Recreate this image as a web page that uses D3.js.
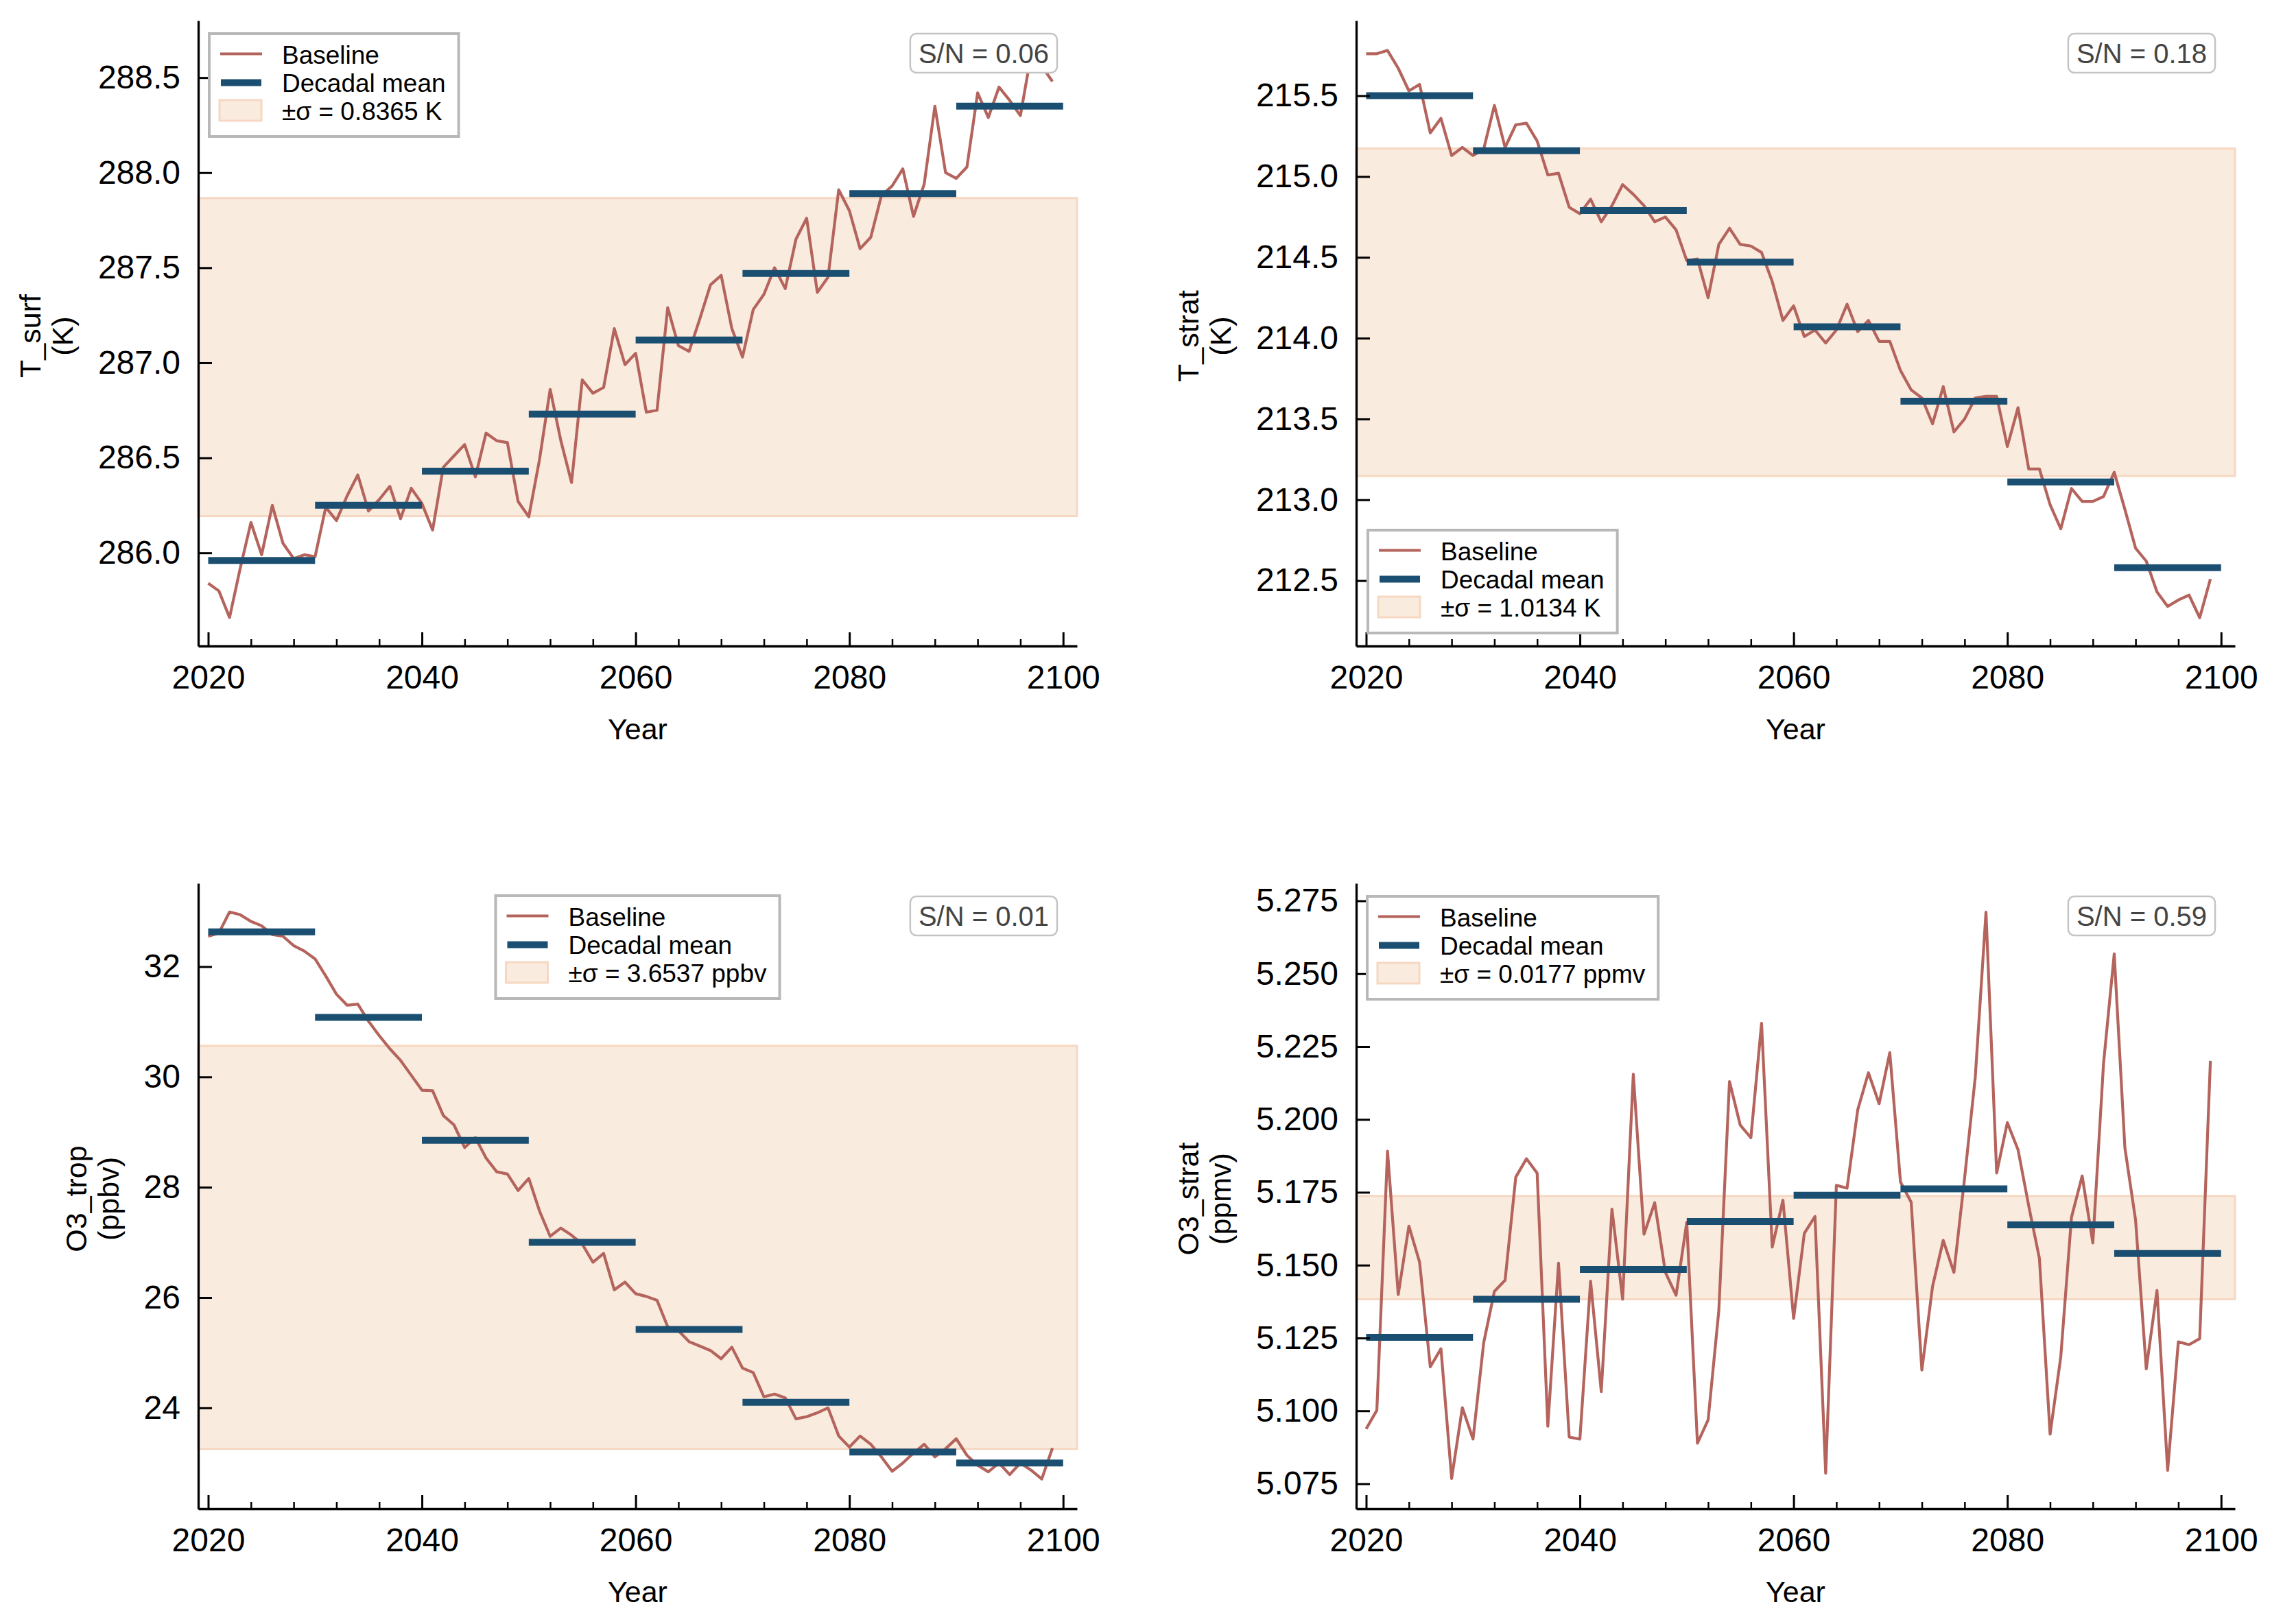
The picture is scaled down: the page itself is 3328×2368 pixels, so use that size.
<!DOCTYPE html>
<html><head><meta charset="utf-8">
<script src="https://cdn.jsdelivr.net/npm/d3@7"></script>
<style>
body{margin:0;background:#fff}
text{font-family:"Liberation Sans", Arial, Helvetica, sans-serif}
</style>
</head><body>
<svg id="chart" width="3328" height="2368"></svg>
<script>
// ---------------- DATA ----------------
const years = d3.range(2020, 2100);
const decadeStarts = [2020, 2030, 2040, 2050, 2060, 2070, 2080, 2090];
const xMajorTicks = [2020, 2040, 2060, 2080, 2100];

const tSurf = [
  285.84, 285.80, 285.66, 285.92, 286.16, 285.99, 286.25, 286.05, 285.97, 285.99,
  285.98, 286.24, 286.17, 286.30, 286.41, 286.22, 286.28, 286.35, 286.18, 286.34,
  286.26, 286.12, 286.45, 286.51, 286.57, 286.40, 286.63, 286.59, 286.58, 286.27,
  286.19, 286.49, 286.86, 286.59, 286.37, 286.91, 286.84, 286.87, 287.18, 286.99,
  287.05, 286.74, 286.75, 287.29, 287.09, 287.06, 287.23, 287.41, 287.46, 287.18,
  287.03, 287.28, 287.36, 287.50, 287.39, 287.65, 287.76, 287.37, 287.45, 287.91,
  287.80, 287.60, 287.66, 287.88, 287.93, 288.02, 287.77, 287.94, 288.35, 288.00,
  287.97, 288.03, 288.42, 288.29, 288.45, 288.38, 288.30, 288.62, 288.56, 288.48
];
const tStrat = [
  215.76, 215.76, 215.78, 215.67, 215.53, 215.57, 215.27, 215.36, 215.13, 215.18,
  215.13, 215.17, 215.44, 215.18, 215.32, 215.33, 215.22, 215.01, 215.02, 214.81,
  214.77, 214.86, 214.72, 214.82, 214.95, 214.89, 214.82, 214.72, 214.75, 214.67,
  214.48, 214.49, 214.25, 214.58, 214.68, 214.58, 214.57, 214.53, 214.35, 214.11,
  214.20, 214.01, 214.05, 213.97, 214.05, 214.21, 214.04, 214.11, 213.98, 213.98,
  213.80, 213.68, 213.63, 213.47, 213.70, 213.42, 213.50, 213.63, 213.64, 213.64,
  213.33, 213.57, 213.19, 213.19, 212.97, 212.82, 213.07, 212.99, 212.99, 213.02,
  213.17, 212.94, 212.70, 212.62, 212.43, 212.34, 212.38, 212.41, 212.27, 212.51
];
const o3Trop = [
  32.55, 32.61, 32.99, 32.94, 32.82, 32.74, 32.58, 32.55, 32.38, 32.28,
  32.14, 31.83, 31.50, 31.30, 31.32, 31.01, 30.75, 30.51, 30.30, 30.03,
  29.76, 29.75, 29.30, 29.13, 28.72, 28.90, 28.53, 28.28, 28.24, 27.94,
  28.16, 27.57, 27.11, 27.26, 27.13, 26.97, 26.64, 26.80, 26.14, 26.28,
  26.07, 26.02, 25.95, 25.47, 25.40, 25.20, 25.12, 25.04, 24.89, 25.10,
  24.72, 24.64, 24.20, 24.25, 24.18, 23.80, 23.84, 23.91, 24.00, 23.49,
  23.29, 23.49, 23.34, 23.11, 22.85, 23.00, 23.18, 23.34, 23.11, 23.26,
  23.44, 23.14, 22.96, 22.84, 23.00, 22.79, 23.00, 22.87, 22.71, 23.27
];
const o3Strat = [
  5.0938, 5.1002, 5.1891, 5.1399, 5.1634, 5.1510, 5.1151, 5.1213, 5.0768, 5.1011,
  5.0903, 5.1234, 5.1410, 5.1448, 5.1802, 5.1865, 5.1816, 5.0947, 5.1507, 5.0910,
  5.0903, 5.1445, 5.1066, 5.1692, 5.1383, 5.2155, 5.1606, 5.1714, 5.1475, 5.1397,
  5.1647, 5.0889, 5.0969, 5.1344, 5.2130, 5.1981, 5.1937, 5.2330, 5.1562, 5.1723,
  5.1317, 5.1609, 5.1667, 5.0786, 5.1774, 5.1764, 5.2033, 5.2160, 5.2054, 5.2229,
  5.1785, 5.1716, 5.1140, 5.1427, 5.1585, 5.1475, 5.1799, 5.2146, 5.2711, 5.1816,
  5.1989, 5.1896, 5.1703, 5.1523, 5.0920, 5.1186, 5.1664, 5.1806, 5.1576, 5.2192,
  5.2568, 5.1902, 5.1654, 5.1144, 5.1413, 5.0796, 5.1237, 5.1227, 5.1248, 5.2201
];

const tSurfMeans   = [285.96, 286.25, 286.43, 286.73, 287.12, 287.47, 287.89, 288.35];
const tStratMeans  = [215.50, 215.16, 214.79, 214.47, 214.07, 213.61, 213.11, 212.58];
const o3TropMeans  = [32.63, 31.08, 28.85, 27.00, 25.42, 24.10, 23.20, 23.00];
const o3StratMeans = [5.1252, 5.1383, 5.1485, 5.1650, 5.1740, 5.1762, 5.1638, 5.1540];

// overall mean and sigma of each variable (band = mean ± sigma)
const bandCenters = [287.03, 214.16, 26.91, 5.156];
const sigmas      = [0.8365, 1.0134, 3.6537, 0.0177];
const sigmaUnits  = ["K", "K", "ppbv", "ppmv"];
const snValues    = ["0.06", "0.18", "0.01", "0.59"];

const varNames  = ["T_surf", "T_strat", "O3_trop", "O3_strat"];
const unitLabels = ["(K)", "(K)", "(ppbv)", "(ppmv)"];

const yTicksTSurf  = [286.0, 286.5, 287.0, 287.5, 288.0, 288.5];
const yTicksTStrat = [212.5, 213.0, 213.5, 214.0, 214.5, 215.0, 215.5];
const yTicksO3Trop = [24, 26, 28, 30, 32];
const yTicksO3Strat = [5.075, 5.100, 5.125, 5.150, 5.175, 5.200, 5.225, 5.250, 5.275];

const yDomains = [[285.51, 288.80], [212.095, 215.965], [22.17, 33.51], [5.0664, 5.281]];
const xDomain = [2019.07, 2101.3];

// ---------------- STYLE / LAYOUT ----------------
const LINE_COLOR = "#b4645c";
const MEAN_COLOR = "#1b4f72";
const BAND_FILL  = "#faebdf";
const BAND_EDGE  = "#f6d8c2";
const W = 1281, H = 912;

const panels = [
  {left: 289,  top: 30,   series: tSurf,  means: tSurfMeans,  yTicks: yTicksTSurf,  fmt: d3.format(".1f"), legendLoc: "upper left"},
  {left: 1977, top: 30,   series: tStrat, means: tStratMeans, yTicks: yTicksTStrat, fmt: d3.format(".1f"), legendLoc: "lower left"},
  {left: 289,  top: 1288, series: o3Trop, means: o3TropMeans, yTicks: yTicksO3Trop, fmt: d3.format("d"),   legendLoc: "upper center"},
  {left: 1977, top: 1288, series: o3Strat,means: o3StratMeans,yTicks: yTicksO3Strat,fmt: d3.format(".3f"), legendLoc: "upper left"}
];

const svg = d3.select("#chart");
svg.append("rect").attr("width", 3328).attr("height", 2368).attr("fill", "#fff");

const xMinorTicks = d3.range(2020, 2101, 4).filter(v => v % 20 !== 0);

panels.forEach((p, k) => {
  const g = svg.append("g").attr("transform", `translate(${p.left},${p.top})`);
  const x = d3.scaleLinear().domain(xDomain).range([0, W]);
  const y = d3.scaleLinear().domain(yDomains[k]).range([H, 0]);

  // sigma band
  const c = bandCenters[k], s = sigmas[k];
  g.append("rect")
    .attr("x", 0).attr("width", W)
    .attr("y", y(c + s)).attr("height", y(c - s) - y(c + s))
    .attr("fill", BAND_FILL).attr("stroke", BAND_EDGE).attr("stroke-width", 3);

  // baseline series
  const line = d3.line().x((d, i) => x(years[i])).y(d => y(d));
  g.append("path").datum(p.series)
    .attr("d", line).attr("fill", "none")
    .attr("stroke", LINE_COLOR).attr("stroke-width", 4.2)
    .attr("stroke-linejoin", "round").attr("stroke-linecap", "butt");

  // decadal means
  g.selectAll("line.mean").data(p.means).join("line").attr("class", "mean")
    .attr("x1", (d, i) => x(decadeStarts[i])).attr("x2", (d, i) => x(decadeStarts[i] + 10))
    .attr("y1", d => y(d)).attr("y2", d => y(d))
    .attr("stroke", MEAN_COLOR).attr("stroke-width", 10);

  // minor x ticks
  const xMinor = g.append("g").attr("transform", `translate(0,${H})`)
    .call(d3.axisBottom(x).tickValues(xMinorTicks).tickSizeInner(-10).tickSizeOuter(0).tickFormat(""));
  xMinor.select(".domain").remove();
  xMinor.selectAll(".tick line").attr("stroke", "#000").attr("stroke-width", 2.5);

  // major x axis
  const xa = g.append("g").attr("transform", `translate(0,${H})`)
    .call(d3.axisBottom(x).tickValues(xMajorTicks).tickFormat(d3.format("d"))
      .tickSizeInner(-20).tickSizeOuter(0).tickPadding(28));
  xa.select(".domain").attr("stroke", "#000").attr("stroke-width", 3.3);
  xa.selectAll(".tick line").attr("stroke", "#000").attr("stroke-width", 3);
  xa.selectAll(".tick text").attr("fill", "#000").style("font-size", "48px")
    .style("font-family", '"Liberation Sans", Arial, sans-serif');

  // y axis
  const ya = g.append("g")
    .call(d3.axisLeft(y).tickValues(p.yTicks).tickFormat(p.fmt)
      .tickSizeInner(-20).tickSizeOuter(0).tickPadding(26));
  ya.select(".domain").attr("stroke", "#000").attr("stroke-width", 3.3);
  ya.selectAll(".tick line").attr("stroke", "#000").attr("stroke-width", 3);
  ya.selectAll(".tick text").attr("fill", "#000").style("font-size", "48px")
    .style("font-family", '"Liberation Sans", Arial, sans-serif');

  // x label
  g.append("text").attr("x", W / 2).attr("y", H + 136)
    .attr("text-anchor", "middle").style("font-size", "43px").attr("fill", "#000")
    .text("Year");

  // y label (two lines), placed left of tick labels
  let minX = 0;
  ya.selectAll(".tick text").each(function () {
    const b = this.getBBox();
    const tx = +this.getAttribute("x") || 0;
    minX = Math.min(minX, b.x);
  });
  const line2 = minX - 37, line1 = line2 - 47;
  const yl = g.append("text")
    .attr("transform", `translate(${line1},${H / 2 + 4}) rotate(-90)`)
    .attr("text-anchor", "middle").style("font-size", "43px").attr("fill", "#000");
  yl.append("tspan").attr("x", 0).attr("dy", 0).text(varNames[k]);
  yl.append("tspan").attr("x", 0).attr("dy", 47).text(unitLabels[k]);

  // S/N box
  const sn = g.append("g");
  const snText = sn.append("text").style("font-size", "40px").attr("fill", "#444")
    .attr("text-anchor", "middle").text(`S/N = ${snValues[k]}`);
  const snW = snText.node().getComputedTextLength() + 24, snH = 57;
  const snX = W - 29 - snW, snY = 19;
  sn.insert("rect", ":first-child")
    .attr("x", snX).attr("y", snY).attr("width", snW).attr("height", snH)
    .attr("rx", 9).attr("ry", 9)
    .attr("fill", "#fff").attr("stroke", "#c4c4c4").attr("stroke-width", 2.5);
  snText.attr("x", snX + snW / 2).attr("y", snY + snH / 2 + 14.3);

  // legend
  const lg = g.append("g");
  const labels = ["Baseline", "Decadal mean", `\u00b1\u03c3 = ${sigmas[k].toFixed(4)} ${sigmaUnits[k]}`];
  const texts = labels.map((t, i) => lg.append("text")
    .attr("x", 106).attr("y", 44 + 41 * i)
    .style("font-size", "37px").attr("fill", "#000").text(t));
  const maxW = d3.max(texts, t => t.node().getComputedTextLength());
  const bw = 106 + maxW + 19, bh = 150;
  lg.insert("rect", ":first-child").attr("width", bw).attr("height", bh)
    .attr("fill", "#fff").attr("stroke", "#b8b8b8").attr("stroke-width", 4);
  lg.append("line").attr("x1", 16).attr("x2", 77).attr("y1", 29.5).attr("y2", 29.5)
    .attr("stroke", LINE_COLOR).attr("stroke-width", 4.2);
  lg.append("line").attr("x1", 17).attr("x2", 76).attr("y1", 71.5).attr("y2", 71.5)
    .attr("stroke", MEAN_COLOR).attr("stroke-width", 10);
  lg.append("rect").attr("x", 15).attr("y", 97).attr("width", 61).attr("height", 30)
    .attr("fill", BAND_FILL).attr("stroke", BAND_EDGE).attr("stroke-width", 3);
  let tx, ty;
  if (p.legendLoc === "upper left") { tx = 16; ty = 19; }
  else if (p.legendLoc === "lower left") { tx = 17; ty = H - 19 - bh; }
  else { tx = (W - bw) / 2; ty = 18; }
  lg.attr("transform", `translate(${tx},${ty})`);
});
</script>
</body></html>
